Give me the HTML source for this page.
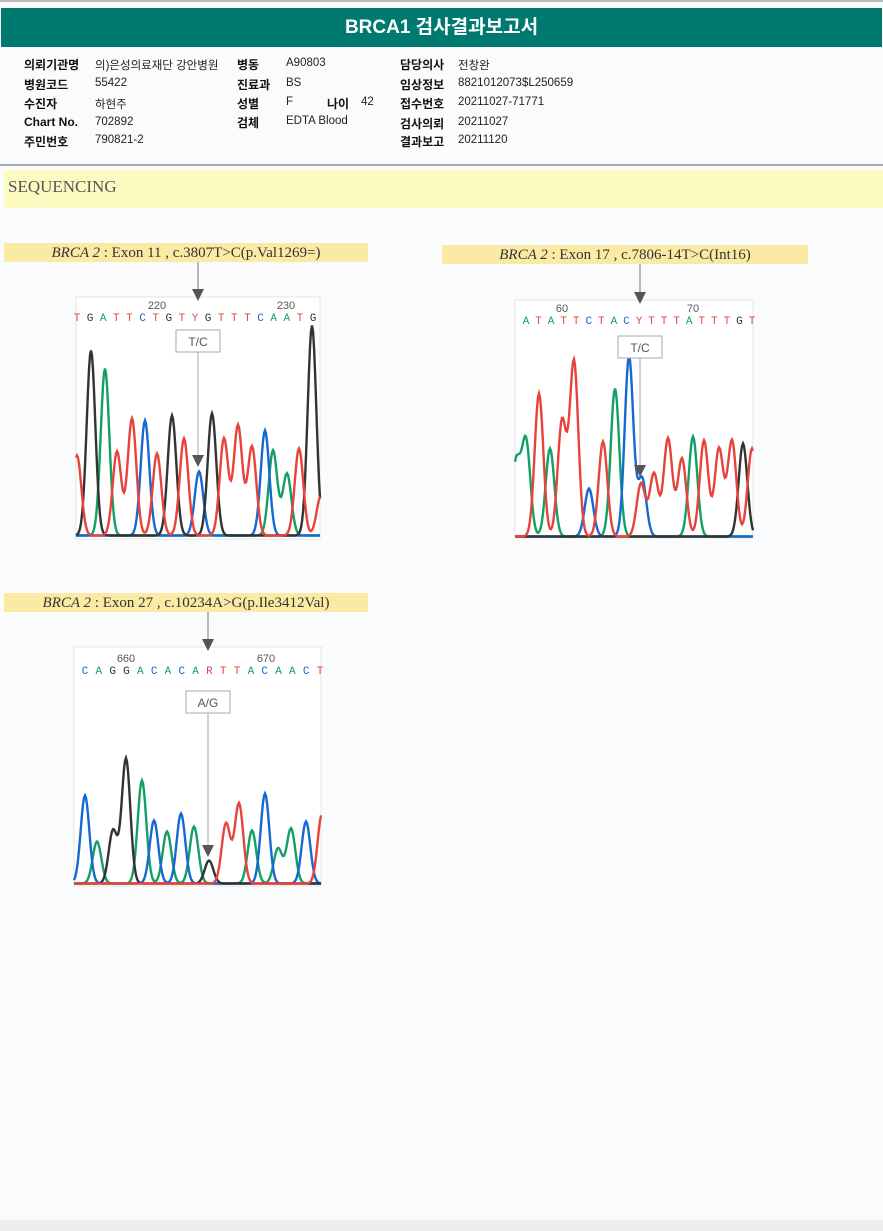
<!DOCTYPE html>
<html><head><meta charset="utf-8">
<style>
body{margin:0;width:883px;height:1231px;background:#f9fbfd;position:relative;overflow:hidden;font-family:"Liberation Sans","Noto Sans CJK KR",sans-serif}
.abs{position:absolute;white-space:nowrap}
.lbl{font-weight:bold;font-size:12px;color:#111}
.val{font-size:11.5px;color:#222}
.cap{position:absolute;background:#fbeaa4;font-family:"Liberation Serif",serif;font-size:15px;color:#333;text-align:center;line-height:20px;white-space:nowrap}
</style></head><body>
<div class="abs" style="left:0;top:0;width:883px;height:2px;background:#bbb"></div>
<div class="abs" style="left:1px;top:8px;width:881px;height:39px;background:#007a70;color:#fff;font-weight:bold;font-size:19px;text-align:center;line-height:40px">BRCA1 검사결과보고서</div>
<div class="abs" style="left:0;top:0;width:883px;height:160px">
<div class="abs lbl" style="left:24px;top:56px">의뢰기관명</div><div class="abs val" style="left:95px;top:57px">의)은성의료재단 강안병원</div>
<div class="abs lbl" style="left:237px;top:56px">병동</div><div class="abs val" style="left:286px;top:57px">A90803</div>
<div class="abs lbl" style="left:400px;top:56px">담당의사</div><div class="abs val" style="left:458px;top:57px">전창완</div>
<div class="abs lbl" style="left:24px;top:76px">병원코드</div><div class="abs val" style="left:95px;top:77px">55422</div>
<div class="abs lbl" style="left:237px;top:76px">진료과</div><div class="abs val" style="left:286px;top:77px">BS</div>
<div class="abs lbl" style="left:400px;top:76px">임상정보</div><div class="abs val" style="left:458px;top:77px">8821012073$L250659</div>
<div class="abs lbl" style="left:24px;top:95px">수진자</div><div class="abs val" style="left:95px;top:96px">하현주</div>
<div class="abs lbl" style="left:237px;top:95px">성별</div><div class="abs val" style="left:286px;top:96px">F</div>
<div class="abs lbl" style="left:327px;top:95px">나이</div><div class="abs val" style="left:361px;top:96px">42</div>
<div class="abs lbl" style="left:400px;top:95px">접수번호</div><div class="abs val" style="left:458px;top:96px">20211027-71771</div>
<div class="abs lbl" style="left:24px;top:115px">Chart No.</div><div class="abs val" style="left:95px;top:116px">702892</div>
<div class="abs lbl" style="left:237px;top:114px">검체</div><div class="abs val" style="left:286px;top:115px">EDTA Blood</div>
<div class="abs lbl" style="left:400px;top:115px">검사의뢰</div><div class="abs val" style="left:458px;top:116px">20211027</div>
<div class="abs lbl" style="left:24px;top:133px">주민번호</div><div class="abs val" style="left:95px;top:134px">790821-2</div>
<div class="abs lbl" style="left:400px;top:133px">결과보고</div><div class="abs val" style="left:458px;top:134px">20211120</div>
</div>
<div class="abs" style="left:0;top:164px;width:883px;height:2px;background:#aaa"></div>
<div class="abs" style="left:4px;top:170px;width:875px;height:38px;background:#fdfbc2;font-family:'Liberation Serif',serif;font-size:17px;color:#555;line-height:34px;padding-left:4px">SEQUENCING</div>
<div class="cap" style="left:4px;top:243px;width:364px;height:19px"><i>BRCA 2</i> : Exon 11 , c.3807T&gt;C(p.Val1269=)</div>
<div class="cap" style="left:442px;top:245px;width:366px;height:19px"><i>BRCA 2</i> : Exon 17 , c.7806-14T&gt;C(Int16)</div>
<div class="cap" style="left:4px;top:593px;width:364px;height:19px"><i>BRCA 2</i> : Exon 27 , c.10234A&gt;G(p.Ile3412Val)</div>
<svg class="abs" id="svg" style="left:0;top:0" width="883" height="1231"></svg>
<div class="abs" style="left:0;top:1220px;width:883px;height:11px;background:#eee"></div>
<script>
// chart 1 data (x: px offset within trace window, h: peak height)
const c1PeakX=[1,15,29,41,56,69,81,96,108,123,136,148,162,176,189,197,211,223,236,245];
const c1PeakH=[80,185,167,84,117,115,82,120,97,64,122,97,110,89,105,85,62,87,210,40];
const c1PeakBase=["T","G","A","T","T","C","T","G","T","C","G","T","T","T","C","A","A","T","G","T"];
const c1Seq="TGATTCTGTYGTTTCAATG";
const c1Ticks=["220","230"];
const c2PeakX=[1,11,24,35,47,59,74,88,100,114,126,127,139,153,167,178,189,204,217,228,237];
const c2PeakH=[73,95,143,88,115,175,48,95,148,180,53,58,63,98,78,100,96,88,96,93,88];
const c2PeakBase=["A","A","T","A","T","T","C","T","A","C","T","C","T","T","T","A","T","T","T","G","T"];
const c2Seq="ATATTCTACYTTTATTTGT";
const c2Ticks=["60","70"];
const c3PeakX=[11,23,39,52,68,80,93,107,120,135,152,165,178,191,204,217,232,248];
const c3PeakH=[88,42,53,125,103,63,52,70,57,23,60,80,53,90,35,55,62,70];
const c3PeakBase=["C","A","G","G","A","C","A","C","A","G","T","T","A","C","A","A","C","T"];
const c3Seq="CAGGACACARTTACAACT";
const c3Ticks=["660","670"];

const NS="http://www.w3.org/2000/svg";
const svg=document.getElementById('svg');
const COL={A:"#14a064",C:"#1668d2",G:"#333",T:"#e8433b",Y:"#e0407a",R:"#e0407a"};
function mk(t,a){const e=document.createElementNS(NS,t);for(const k in a)e.setAttribute(k,a[k]);svg.appendChild(e);return e;}
function chart(cfg,px,ph,pb,seq,ticks){
  const {x0,y0,w,h,base,arrowX,capBottom,tickX,seqY,seqX0,seqX1,boxY,label,triY,name}=cfg;
  const fr=mk('rect',{x:x0,y:y0,width:w,height:h,fill:'#fff',stroke:'#e4e4e4'});
  
  
  const xs=v=>x0+v, ys=v=>base-v;
  ['A','C','G','T'].forEach(b=>{
    let d='';
    for(let p=0;p<=w;p++){
      let s=1.5;
      for(let i=0;i<px.length;i++) if(pb[i]===b){const dx=p-px[i];s+=ph[i]*Math.exp(-dx*dx/(2*4.3*4.3));}
      d+=(p?'L':'M')+xs(p).toFixed(1)+' '+ys(Math.min(s,h-8)).toFixed(1);
    }
    const pa=mk('path',{d:d,fill:'none',stroke:COL[b],'stroke-width':2.4});
    
    
  });
  const n=seq.length;
  for(let i=0;i<n;i++){
    const t=mk('text',{x:seqX0+(seqX1-seqX0)*i/(n-1),y:seqY,'font-size':11,'text-anchor':'middle',fill:COL[seq[i]],'font-family':'Liberation Mono,monospace'});
    t.textContent=seq[i];
    
    
  }
  ticks.forEach((tk,i)=>{
    const t=mk('text',{x:tickX[i],y:seqY-12,'font-size':11,'text-anchor':'middle',fill:'#555'});
    t.textContent=tk;
    
    
  });
  mk('line',{x1:arrowX,y1:capBottom,x2:arrowX,y2:y0-7,stroke:'#777','stroke-width':1});
  mk('polygon',{points:`${arrowX-6},${y0-8} ${arrowX+6},${y0-8} ${arrowX},${y0+4}`,fill:'#555'});
  const bx=mk('rect',{x:arrowX-22,y:boxY,width:44,height:22,fill:'#fff',stroke:'#aaa'});
  
  
  const lt=mk('text',{x:arrowX,y:boxY+16,'font-size':12,'text-anchor':'middle',fill:'#555'});
  lt.textContent=label;
  mk('line',{x1:arrowX,y1:boxY+22,x2:arrowX,y2:triY,stroke:'#aaa','stroke-width':1});
  mk('polygon',{points:`${arrowX-6},${triY} ${arrowX+6},${triY} ${arrowX},${triY+12}`,fill:'#555'});
}
chart({x0:76,y0:297,w:244,h:242,base:537,arrowX:198,capBottom:262,tickX:[157,286],seqY:321,seqX0:77,seqX1:313,boxY:330,label:'T/C',triY:455,name:'chromatogram-1'},c1PeakX,c1PeakH,c1PeakBase,c1Seq,c1Ticks);
chart({x0:515,y0:300,w:238,h:238,base:538,arrowX:640,capBottom:264,tickX:[562,693],seqY:324,seqX0:526,seqX1:752,boxY:336,label:'T/C',triY:465,name:'chromatogram-2'},c2PeakX,c2PeakH,c2PeakBase,c2Seq,c2Ticks);
chart({x0:74,y0:647,w:247,h:239,base:885,arrowX:208,capBottom:612,tickX:[126,266],seqY:674,seqX0:85,seqX1:320,boxY:691,label:'A/G',triY:845,name:'chromatogram-3'},c3PeakX,c3PeakH,c3PeakBase,c3Seq,c3Ticks);
</script>
</body></html>
